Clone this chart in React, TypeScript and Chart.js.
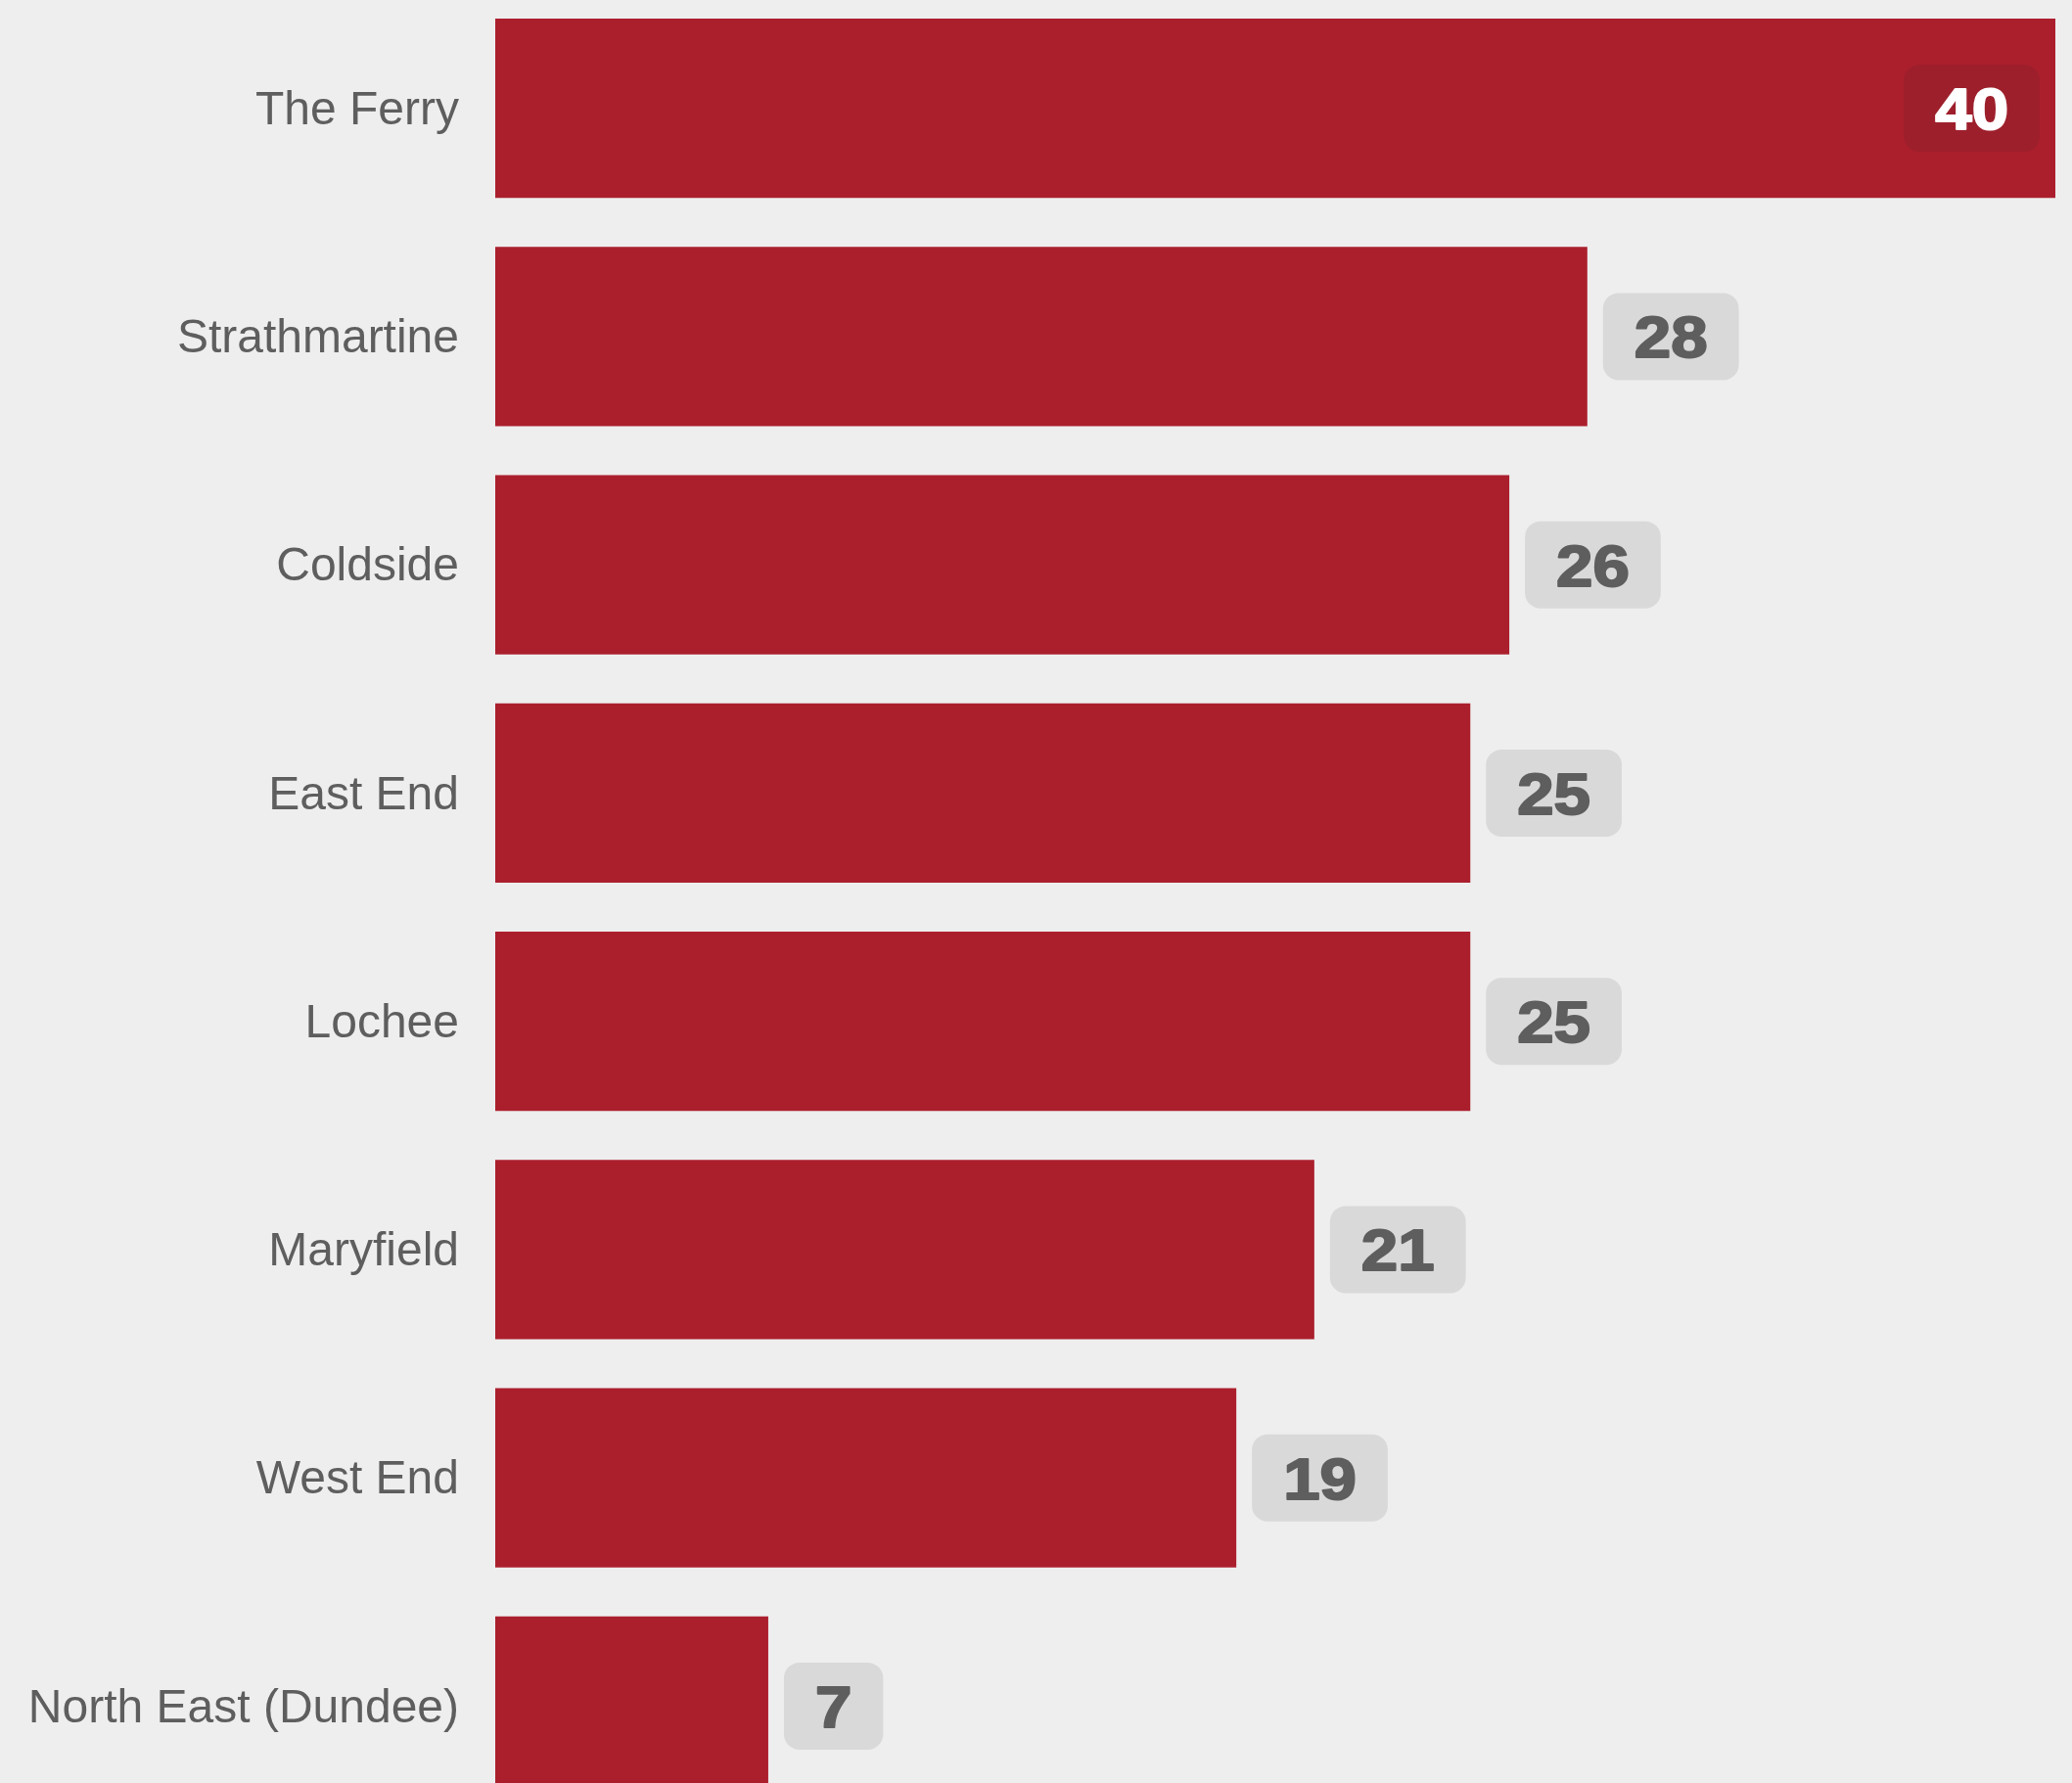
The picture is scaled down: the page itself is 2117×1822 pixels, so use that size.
import React, { useEffect, useRef } from 'react';
import { Chart, registerables } from 'chart.js';

Chart.register(...registerables);

const categories = [
  'The Ferry',
  'Strathmartine',
  'Coldside',
  'East End',
  'Lochee',
  'Maryfield',
  'West End',
  'North East (Dundee)',
];
const values = [40, 28, 26, 25, 25, 21, 19, 7];
const xMin = 0;
const xMax = 40;

const BG = '#eeeeee';
const BAR = '#ab1f2d';
const TEXT = '#5e5e5e';

const valueLabelPlugin = {
  id: 'valueLabels',
  afterDatasetsDraw(chart: any) {
    const ctx = chart.ctx as CanvasRenderingContext2D;
    const meta = chart.getDatasetMeta(0);
    const area = chart.chartArea;
    const fontSize = 60;
    const stretch = 1.12;
    ctx.save();
    ctx.font = `bold ${fontSize}px "Liberation Sans", Arial, sans-serif`;
    meta.data.forEach((bar: any, i: number) => {
      const text = String(values[i]);
      const tw = ctx.measureText(text).width * stretch;
      const boxW = tw + 64;
      const boxH = 89;
      const gap = 16;
      const inside = bar.x + gap + boxW > area.right;
      const left = inside ? bar.x - gap - boxW : bar.x + gap;
      const top = bar.y - boxH / 2;
      ctx.fillStyle = inside ? '#9d1f2b' : '#d9d9d9';
      ctx.beginPath();
      (ctx as any).roundRect(left, top, boxW, boxH, 16);
      ctx.fill();
      const fg = inside ? '#ffffff' : TEXT;
      ctx.fillStyle = fg;
      ctx.strokeStyle = fg;
      ctx.lineWidth = 2;
      ctx.lineJoin = 'round';
      ctx.save();
      ctx.translate(left + boxW / 2, bar.y + (fontSize * 0.716) / 2);
      ctx.scale(stretch, 1);
      ctx.textAlign = 'center';
      ctx.textBaseline = 'alphabetic';
      ctx.fillText(text, 0, 0);
      ctx.strokeText(text, 0, 0);
      ctx.restore();
    });
    ctx.restore();
  },
};

const bgPlugin = {
  id: 'bgFill',
  beforeDraw(chart: any) {
    const ctx = chart.ctx as CanvasRenderingContext2D;
    ctx.save();
    ctx.fillStyle = BG;
    ctx.fillRect(0, 0, chart.width, chart.height);
    ctx.restore();
  },
};

export default function App() {
  const canvasRef = useRef<HTMLCanvasElement | null>(null);

  useEffect(() => {
    const canvas = canvasRef.current;
    if (!canvas) return;
    const chart = new Chart(canvas, {
      type: 'bar',
      data: {
        labels: categories,
        datasets: [
          {
            data: values,
            backgroundColor: BAR,
            borderWidth: 0,
            barPercentage: 0.785,
            categoryPercentage: 1,
          },
        ],
      },
      options: {
        indexAxis: 'y',
        responsive: false,
        animation: false,
        devicePixelRatio: 1,
        layout: { padding: { left: 0, right: 17, top: 0, bottom: 0 } },
        plugins: {
          legend: { display: false },
          tooltip: { enabled: false },
        },
        scales: {
          x: {
            display: false,
            min: xMin,
            max: xMax,
          },
          y: {
            grid: { display: false, drawTicks: false },
            border: { display: false },
            ticks: {
              padding: 37,
              labelOffset: 3,
              color: TEXT,
              font: { family: '"Liberation Sans", Arial, sans-serif', size: 48 },
            },
            afterFit(scale: any) {
              scale.width = 506;
              scale.paddingTop = 0;
              scale.paddingBottom = 0;
            },
          },
        },
      },
      plugins: [bgPlugin, valueLabelPlugin],
    } as any);
    return () => chart.destroy();
  }, []);

  return (
    <div
      style={{
        position: 'fixed',
        left: 0,
        top: 0,
        right: 0,
        bottom: 0,
        background: BG,
        overflow: 'hidden',
      }}
    >
      <canvas
        ref={canvasRef}
        width={2117}
        height={1866}
        style={{ position: 'absolute', left: 0, top: -6, width: 2117, height: 1866 }}
      />
    </div>
  );
}
